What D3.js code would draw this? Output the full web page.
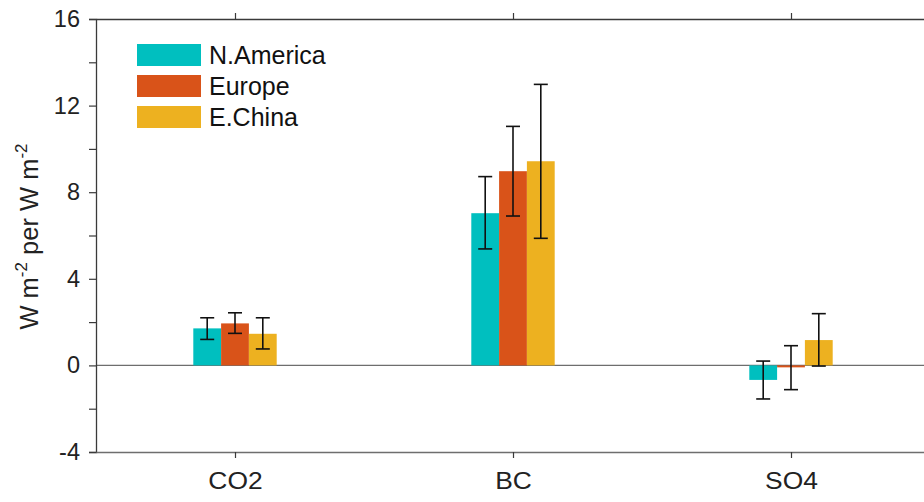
<!DOCTYPE html>
<html><head><meta charset="utf-8">
<script src="https://cdn.jsdelivr.net/npm/d3@7"></script>
<style>body{margin:0;background:#fff}svg{display:block}text{font-family:"Liberation Sans",Arial,sans-serif}</style>
</head><body><svg id="c" width="924" height="502"></svg>
<script>
const categories = ["CO2", "BC", "SO4"];
const seriesNames = ["N.America", "Europe", "E.China"];
const seriesColors = ["#00BFBF", "#D95319", "#EDB120"];
const naValues = [1.71, 7.03, -0.67];
const euValues = [1.94, 8.97, -0.09];
const ecValues = [1.46, 9.43, 1.17];
const naLow = [1.20, 5.38, -1.55];
const naHigh = [2.20, 8.72, 0.20];
const euLow = [1.48, 6.90, -1.12];
const euHigh = [2.43, 11.04, 0.91];
const ecLow = [0.76, 5.87, -0.03];
const ecHigh = [2.20, 12.98, 2.39];
const yTicks = [-4, -2, 0, 2, 4, 6, 8, 10, 12, 14, 16];
const yTickLabels = ["-4", "", "0", "", "4", "", "8", "", "12", "", "16"];

const series = [
  {name: seriesNames[0], color: seriesColors[0], values: naValues, low: naLow, high: naHigh},
  {name: seriesNames[1], color: seriesColors[1], values: euValues, low: euLow, high: euHigh},
  {name: seriesNames[2], color: seriesColors[2], values: ecValues, low: ecLow, high: ecHigh}
];

const svg = d3.select("#c");
const x = d3.scaleLinear().domain([0.5, 3.5]).range([96, 930]);
const y = d3.scaleLinear().domain([-4, 16]).range([452, 19]);
const barW = 0.1;
const axisColor = "#3a3a3a";

// zero line
svg.append("line").attr("x1", x(0.5)).attr("x2", x(3.5)).attr("y1", y(0)).attr("y2", y(0))
  .attr("stroke", "#6e6e6e").attr("stroke-width", 1.2);

// bars
series.forEach((s, si) => {
  const off = (si - 1) * barW;
  const g = svg.append("g");
  g.selectAll("rect").data(s.values).join("rect")
    .attr("x", (d, i) => x(i + 1 + off - barW / 2))
    .attr("width", x(barW) - x(0))
    .attr("y", d => y(Math.max(0, d)))
    .attr("height", d => Math.abs(y(d) - y(0)))
    .attr("fill", s.color);
});
// error bars
series.forEach((s, si) => {
  const off = (si - 1) * barW;
  const g = svg.append("g").attr("stroke", "#111").attr("stroke-width", 1.6);
  s.values.forEach((v, i) => {
    const cx = x(i + 1 + off);
    g.append("line").attr("x1", cx).attr("x2", cx).attr("y1", y(s.low[i])).attr("y2", y(s.high[i]));
    [s.low[i], s.high[i]].forEach(e => {
      g.append("line").attr("x1", cx - 7).attr("x2", cx + 7).attr("y1", y(e)).attr("y2", y(e));
    });
  });
});

// axes
const yAxis = d3.axisLeft(y).tickValues(yTicks).tickSize(7).tickPadding(9)
  .tickFormat((d, i) => yTickLabels[i]);
const gy = svg.append("g").attr("transform", `translate(${x(0.5)},0)`).call(yAxis);
gy.select(".domain").attr("stroke", axisColor).attr("stroke-width", 1.3);
gy.selectAll(".tick line").attr("stroke", axisColor).attr("stroke-width", 1.2);
gy.selectAll(".tick text").attr("font-size", 23.5).attr("fill", "#222")
  .attr("font-family", "Liberation Sans, Arial, sans-serif");

const xAxis = d3.axisBottom(x).tickValues([1, 2, 3]).tickSize(6).tickPadding(14)
  .tickFormat((d) => categories[d - 1]).tickSizeOuter(0);
const gx = svg.append("g").attr("transform", `translate(0,${y(-4)})`).call(xAxis);
gx.select(".domain").attr("stroke", "#6e6e6e").attr("stroke-width", 1.3);
gx.selectAll(".tick line").attr("stroke", axisColor).attr("stroke-width", 1.2);
gx.selectAll(".tick text").attr("font-size", 24).attr("fill", "#222")
  .attr("font-family", "Liberation Sans, Arial, sans-serif")
  .attr("transform", "scale(1.1,1)");

const xTop = d3.axisTop(x).tickValues([1, 2, 3]).tickSize(6).tickFormat("").tickSizeOuter(0);
const gt = svg.append("g").attr("transform", `translate(0,${y(16)})`).call(xTop);
gt.select(".domain").attr("stroke", axisColor).attr("stroke-width", 1.6);
gt.selectAll(".tick line").attr("stroke", axisColor).attr("stroke-width", 1.2);

// y label
svg.append("text")
  .attr("transform", `translate(38,${(140 + 333) / 2}) rotate(-90)`)
  .attr("text-anchor", "middle").attr("font-size", 25.5).attr("fill", "#222")
  .call(t => {
    t.append("tspan").text("W m");
    t.append("tspan").attr("dy", -11).attr("font-size", 17).text("-2");
    t.append("tspan").attr("dy", 11).text(" per W m");
    t.append("tspan").attr("dy", -11).attr("font-size", 17).text("-2");
  });

// legend
const lg = svg.append("g");
series.forEach((s, i) => {
  const yy = 44 + i * 31;
  lg.append("rect").attr("x", 137).attr("y", yy).attr("width", 64).attr("height", 22).attr("fill", s.color);
  lg.append("text").attr("x", 209).attr("y", yy + 20).attr("font-size", 25).attr("fill", "#111").text(s.name);
});
</script></body></html>
